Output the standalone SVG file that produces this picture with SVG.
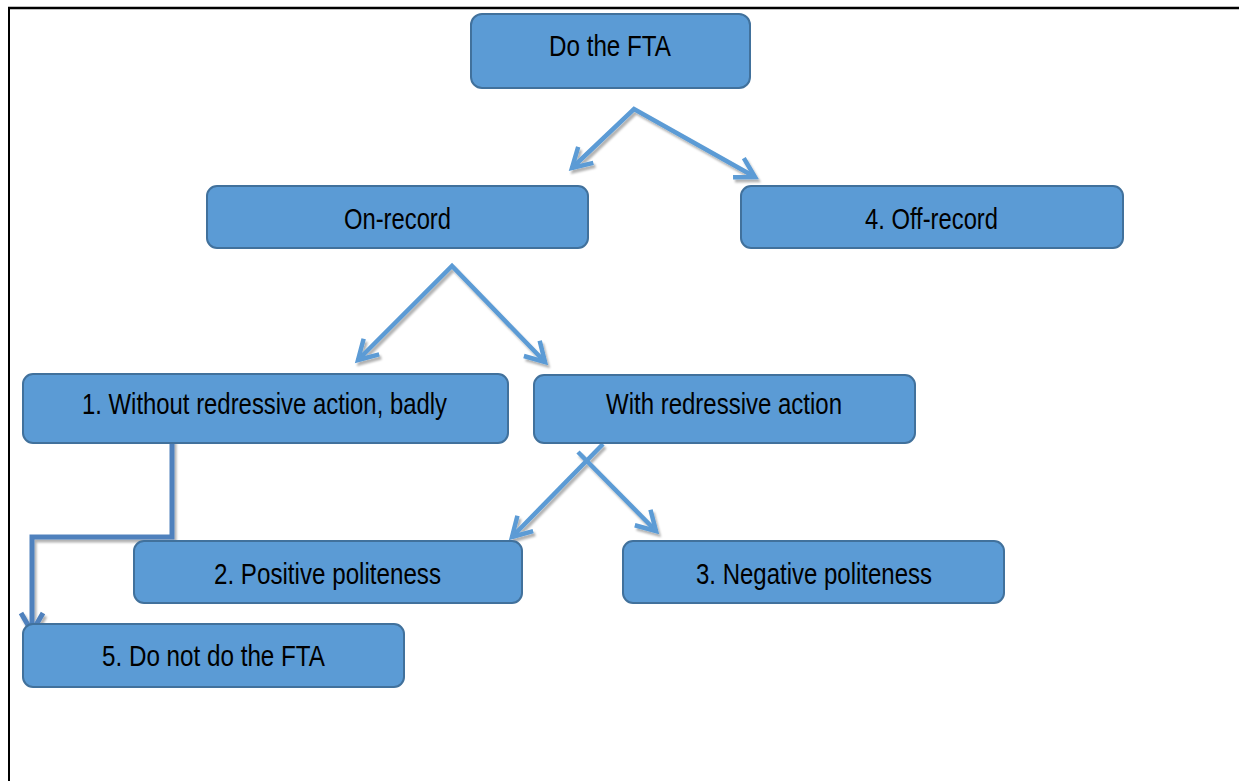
<svg xmlns="http://www.w3.org/2000/svg" width="1239" height="781" viewBox="0 0 1239 781">
<style>
.box{fill:#5B9BD5;stroke:#41719C;stroke-width:2}
.lbl{font-family:"Liberation Sans Narrow","Liberation Sans",Arial,sans-serif;font-size:30px;fill:#000;text-anchor:middle}
.arr{fill:none;stroke:#5B9BD5;stroke-width:4.5;stroke-linejoin:miter}
.elb{fill:none;stroke:#4F81BD;stroke-width:5}
</style>
<defs>
<filter id="sh" x="-20%" y="-20%" width="140%" height="140%">
<feDropShadow dx="2" dy="3" stdDeviation="1" flood-color="#000" flood-opacity="0.3"/>
</filter>
<marker id="ah" markerUnits="userSpaceOnUse" markerWidth="50" markerHeight="50" viewBox="-25 -25 50 50" refX="0" refY="0" orient="auto-start-reverse">
<path d="M-19,-11 L0,0 L-19,11" fill="none" stroke="#5B9BD5" stroke-width="4.5"/>
</marker>
<marker id="ah2" markerUnits="userSpaceOnUse" markerWidth="50" markerHeight="50" viewBox="-25 -25 50 50" refX="0" refY="0" orient="auto-start-reverse">
<path d="M-19,-11 L0,0 L-19,11" fill="none" stroke="#4F81BD" stroke-width="5"/>
</marker>
</defs>
<rect width="1239" height="781" fill="#fff"/>
<g id="frame" stroke="#000">
<line x1="8" y1="8" x2="1239" y2="8" stroke-width="2.5"/>
<line x1="9" y1="7" x2="9" y2="781" stroke-width="2"/>
</g>
<g id="connectors" filter="url(#sh)">
<polyline class="arr" points="572,168 634,109 755,177" marker-start="url(#ah)" marker-end="url(#ah)"/>
<polyline class="arr" points="358,360 452,266 545,362" marker-start="url(#ah)" marker-end="url(#ah)"/>
<line class="arr" x1="603" y1="444" x2="512" y2="537" marker-end="url(#ah)"/>
<line class="arr" x1="578" y1="452" x2="656" y2="531" marker-end="url(#ah)"/>
<polyline class="elb" points="172,440 172,537 32,537 32,632" marker-end="url(#ah2)"/>
</g>
<g id="n-do-fta">
<rect class="box" x="471" y="14" width="279" height="74" rx="11"/>
<text class="lbl" x="610" y="56" textLength="122" lengthAdjust="spacingAndGlyphs">Do the FTA</text>
</g>
<g id="n-on-record">
<rect class="box" x="207" y="186" width="381" height="62" rx="10"/>
<text class="lbl" x="397.5" y="229" textLength="107" lengthAdjust="spacingAndGlyphs">On-record</text>
</g>
<g id="n-off-record">
<rect class="box" x="741" y="186" width="382" height="62" rx="10"/>
<text class="lbl" x="931.5" y="229" textLength="133" lengthAdjust="spacingAndGlyphs">4. Off-record</text>
</g>
<g id="n-without">
<rect class="box" x="23" y="374" width="485" height="69" rx="10"/>
<text class="lbl" x="264.5" y="414" textLength="365" lengthAdjust="spacingAndGlyphs">1. Without redressive action, badly</text>
</g>
<g id="n-with">
<rect class="box" x="534" y="375" width="381" height="68" rx="10"/>
<text class="lbl" x="724" y="414" textLength="236" lengthAdjust="spacingAndGlyphs">With redressive action</text>
</g>
<g id="n-positive">
<rect class="box" x="134" y="541" width="388" height="62" rx="10"/>
<text class="lbl" x="327.5" y="584" textLength="227" lengthAdjust="spacingAndGlyphs">2. Positive politeness</text>
</g>
<g id="n-negative">
<rect class="box" x="623" y="541" width="381" height="62" rx="10"/>
<text class="lbl" x="814" y="584" textLength="236" lengthAdjust="spacingAndGlyphs">3. Negative politeness</text>
</g>
<g id="n-do-not">
<rect class="box" x="23" y="624" width="381" height="63" rx="10"/>
<text class="lbl" x="213.5" y="666" textLength="223" lengthAdjust="spacingAndGlyphs">5. Do not do the FTA</text>
</g>
</svg>
